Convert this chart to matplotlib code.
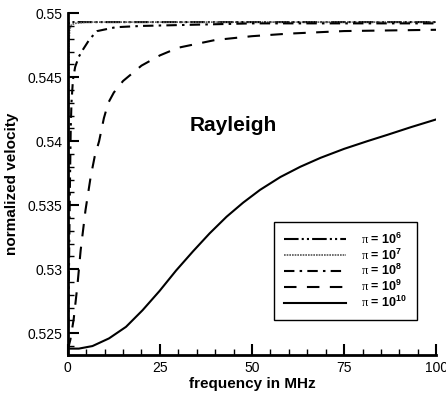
import numpy as np
import matplotlib
matplotlib.use("Agg")
import matplotlib.pyplot as plt
from matplotlib.ticker import MultipleLocator, FuncFormatter

plt.rcParams['font.family'] = ['Liberation Sans', 'DejaVu Sans']
plt.rcParams['mathtext.fontset'] = 'custom'
plt.rcParams['mathtext.rm'] = 'Liberation Serif'
plt.rcParams['mathtext.bf'] = 'Liberation Sans:bold'
plt.rcParams['mathtext.default'] = 'bf'

# frequency (MHz) / normalized velocity
f_e6 = [0, 0.02, 0.05, 0.1, 0.2, 0.5, 1, 100]
v_e6 = [0.5236, 0.535, 0.545, 0.5485, 0.5492, 0.5493, 0.5493, 0.5493]

f_e7 = [0, 0.05, 0.1, 0.15, 0.2, 0.3, 0.5, 1, 2, 5, 100]
v_e7 = [0.5236, 0.530, 0.537, 0.542, 0.545, 0.5475, 0.5487, 0.5491, 0.5492, 0.5493, 0.5493]

f_e8 = [0, 0.2, 0.4, 0.6, 0.8, 1.0, 1.4, 2, 3, 4, 6, 8, 13, 20, 35, 50, 100]
v_e8 = [0.5236, 0.527, 0.532, 0.537, 0.541, 0.5430, 0.5448, 0.5458, 0.5466,
        0.5471, 0.5480, 0.5486, 0.5489, 0.5490, 0.5491, 0.5492, 0.5492]

f_e9 = [0, 0.7, 1.6, 2.6, 3.5, 4.8, 6.2, 7.3, 8.5, 9.8, 11, 12.5, 15, 17.5, 20,
        25, 30, 40, 50, 60, 75, 100]
v_e9 = [0.5237, 0.5245, 0.5261, 0.5287, 0.5315, 0.5346, 0.5372, 0.5388, 0.5400,
        0.5418, 0.5430, 0.5438, 0.5447, 0.5453, 0.5459, 0.5467, 0.5473, 0.5479,
        0.5482, 0.5484, 0.5486, 0.5487]

f_e10 = [0, 3, 6.7, 11.2, 15.8, 20.3, 24.9, 29.4, 34, 38.5, 43.1, 47.6, 52.2,
         57.7, 63.1, 68.6, 75, 81.3, 86.8, 93.2, 100]
v_e10 = [0.5238, 0.5238, 0.5240, 0.5246, 0.5255, 0.5268, 0.5283, 0.5299, 0.5314,
         0.5328, 0.5341, 0.5352, 0.5362, 0.5372, 0.5380, 0.5387, 0.5394, 0.5400,
         0.5405, 0.5411, 0.5417]

labels = [r'$\mathrm{\pi}$ = 10$^{6}$', r'$\mathrm{\pi}$ = 10$^{7}$', r'$\mathrm{\pi}$ = 10$^{8}$',
          r'$\mathrm{\pi}$ = 10$^{9}$', r'$\mathrm{\pi}$ = 10$^{10}$']

fig = plt.figure(figsize=(4.46, 3.98), dpi=100)
ax = fig.add_axes([0.152, 0.108, 0.826, 0.859])

ax.plot(f_e6, v_e6, color='black', lw=1.5, ls=(0, (7, 1.5, 1, 1.5, 1, 1.5)), label=labels[0])
ax.plot(f_e7, v_e7, color='#555555', lw=1.2, ls=(0, (1, 0.6)), label=labels[1])
ax.plot(f_e8, v_e8, color='black', lw=1.5, ls=(0, (5, 2.5, 1.2, 2.5)), label=labels[2])
ax.plot(f_e9, v_e9, color='black', lw=1.5, ls=(0, (6, 5)), label=labels[3])
ax.plot(f_e10, v_e10, color='black', lw=1.5, ls='-', label=labels[4])

ax.set_xlim(0, 100)
ax.set_ylim(0.5233, 0.55)
ax.xaxis.set_major_locator(MultipleLocator(25))
ax.xaxis.set_minor_locator(MultipleLocator(5))
ax.yaxis.set_major_locator(MultipleLocator(0.005))
ax.yaxis.set_minor_locator(MultipleLocator(0.001))
ax.yaxis.set_major_formatter(FuncFormatter(lambda v, p: '%g' % round(v, 4)))

for s in ['top', 'right']:
    ax.spines[s].set_visible(False)
for s in ['left', 'bottom']:
    ax.spines[s].set_linewidth(2)
ax.tick_params(which='major', direction='in', length=8, width=1.5, labelsize=10, pad=4)
ax.tick_params(which='minor', direction='in', length=4, width=1)

ax.set_xlabel('frequency in MHz', fontsize=11, fontweight='bold', labelpad=2)
ax.set_ylabel('normalized velocity', fontsize=11, fontweight='bold', labelpad=6)

ax.text(45, 0.54125, 'Rayleigh', fontsize=15, fontweight='bold', ha='center', va='center')

leg = ax.legend(loc='lower right', bbox_to_anchor=(0.948, 0.102), borderaxespad=0,
                handlelength=5.0, fancybox=False, framealpha=1, edgecolor='black',
                borderpad=0.8, labelspacing=0.05, handletextpad=1.2,
                prop={'weight': 'bold', 'size': 9})
leg.get_frame().set_linewidth(1)

plt.savefig('out.png', dpi=100)
